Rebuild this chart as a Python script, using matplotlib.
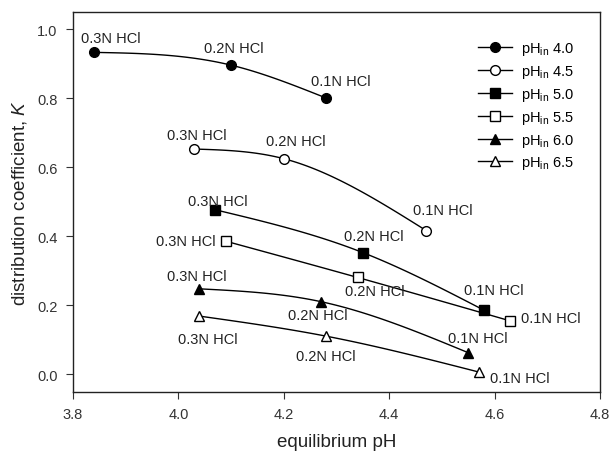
import numpy as np
import matplotlib
matplotlib.use("Agg")
import matplotlib.pyplot as plt

plt.rcParams['font.family'] = ['Liberation Sans', 'DejaVu Sans']
plt.rcParams['mathtext.fontset'] = 'custom'
plt.rcParams['mathtext.rm'] = 'Liberation Sans'
plt.rcParams['mathtext.it'] = 'Liberation Sans:italic'

# data
ph_in = ['4.0', '4.5', '5.0', '5.5', '6.0', '6.5']
hcl = ['0.3N HCl', '0.2N HCl', '0.1N HCl']
ph_eq = [
    [3.84, 4.10, 4.28],
    [4.03, 4.20, 4.47],
    [4.07, 4.35, 4.58],
    [4.09, 4.34, 4.63],
    [4.04, 4.27, 4.55],
    [4.04, 4.28, 4.57],
]
K = [
    [0.933, 0.896, 0.801],
    [0.653, 0.625, 0.417],
    [0.477, 0.353, 0.186],
    [0.386, 0.281, 0.155],
    [0.248, 0.211, 0.063],
    [0.169, 0.111, 0.007],
]

markers = ['o', 'o', 's', 's', '^', '^']
faces = ['black', 'white', 'black', 'white', 'black', 'white']

# label offsets in pixels (dx, dy down), alignment
label_pos = [
    [(17, -14, 'center'), (3, -17, 'center'), (15, -17, 'center')],
    [(3, -14, 'center'), (12, -18, 'center'), (17, -21, 'center')],
    [(3, -9, 'center'), (11, -17, 'center'), (10, -20, 'center')],
    [(-10, 0, 'right'), (17, 14, 'center'), (11, -3, 'left')],
    [(-3, -13, 'center'), (-3, 13, 'center'), (10, -15, 'center')],
    [(8, 23, 'center'), (0, 20, 'center'), (11, 6, 'left')],
]


def spline(x, y, n=60):
    # natural cubic spline through three points
    h = np.diff(x)
    d = np.diff(y) / h
    M = [0.0, 3 * (d[1] - d[0]) / (h[0] + h[1]), 0.0]
    xs_all, ys_all = [], []
    for k in range(2):
        t = np.linspace(x[k], x[k + 1], n)
        a = x[k + 1] - t
        b = t - x[k]
        s = (M[k] * a**3 + M[k + 1] * b**3) / (6 * h[k]) \
            + (y[k] / h[k] - M[k] * h[k] / 6) * a \
            + (y[k + 1] / h[k] - M[k + 1] * h[k] / 6) * b
        xs_all.append(t)
        ys_all.append(s)
    return np.concatenate(xs_all), np.concatenate(ys_all)


fig = plt.figure(figsize=(6.1, 4.56), dpi=100)
ax = fig.add_axes([0.1197, 0.1388, 0.8639, 0.8327])

for i in range(len(ph_in)):
    x = np.array(ph_eq[i])
    y = np.array(K[i])
    xs, ys = spline(x, y)
    ax.plot(xs, ys, color='black', lw=1, zorder=2)
    ax.plot(x, y, ls='none', marker=markers[i], ms=7, mfc=faces[i],
            mec='black', mew=1, zorder=3)
    ax.plot([], [], color='black', lw=1, marker=markers[i], ms=7,
            mfc=faces[i], mec='black', mew=1,
            label=r'pH$_{\mathregular{in}}$ ' + ph_in[i])
    for j in range(3):
        dx, dy, ha = label_pos[i][j]
        ax.annotate(hcl[j], (x[j], y[j]), xytext=(dx, -dy),
                    textcoords='offset pixels', ha=ha, va='center',
                    fontsize=10.5, color='#222222')

ax.set_xlim(3.8, 4.8)
ax.set_ylim(-0.05, 1.05)
ax.set_xticks([3.8, 4.0, 4.2, 4.4, 4.6, 4.8])
ax.set_yticks([0.0, 0.2, 0.4, 0.6, 0.8, 1.0])
ax.xaxis.set_major_formatter(matplotlib.ticker.FormatStrFormatter('%.1f'))
ax.yaxis.set_major_formatter(matplotlib.ticker.FormatStrFormatter('%.1f'))
ax.tick_params(direction='out', labelsize=10.5, length=5, pad=6,
               colors='#333333', top=False, right=False)
for s in ax.spines.values():
    s.set_linewidth(1)
    s.set_color('#222222')

ax.set_xlabel('equilibrium pH', fontsize=13.5, labelpad=9, color='#222222')
ax.set_ylabel('distribution coefficient, $\\it{K}$', fontsize=13.5,
              labelpad=6, color='#222222')

ax.legend(loc='upper right', frameon=False, fontsize=10.5,
          bbox_to_anchor=(0.975, 0.96), handlelength=2.3,
          labelspacing=0.4, handletextpad=0.6)

fig.savefig('out.png', dpi=100)
